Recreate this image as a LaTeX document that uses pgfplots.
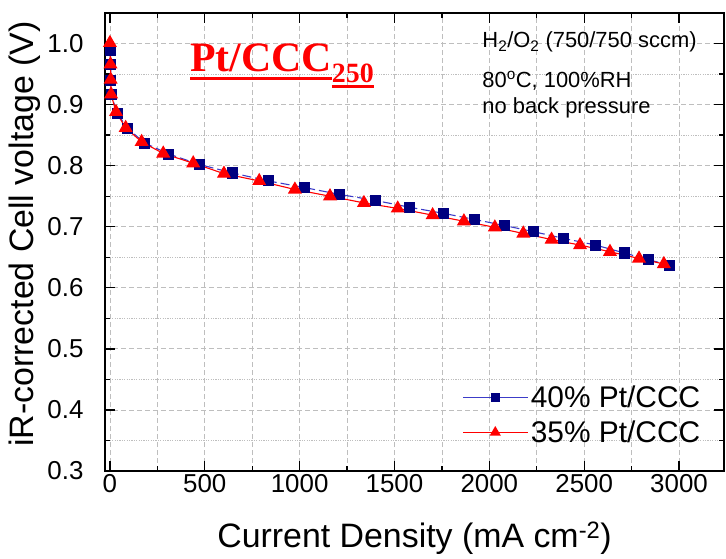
\documentclass[border=0pt]{standalone}
\usepackage{pgfplots}
\pgfplotsset{compat=1.18}
\usepackage{fontspec}
\setmainfont{Liberation Sans}
\newfontfamily\titlefont{Liberation Serif}
\definecolor{navy}{RGB}{0,0,128}
\definecolor{lblue}{RGB}{60,60,200}
\definecolor{gridgray}{RGB}{190,190,190}
\newcommand\ul[3]{\setbox0\hbox{#1}\rlap{\color{red}\rule[-#2]{\wd0}{#3}}\box0}

\begin{document}
\begin{tikzpicture}
\begin{axis}[
  scale only axis, width=619bp, height=458bp,
  xmin=-26, xmax=3237, ymin=0.3, ymax=1.05,
  xtick={0,500,1000,1500,2000,2500,3000}, minor x tick num=1,
  ytick={0.3,0.4,0.5,0.6,0.7,0.8,0.9,1.0}, minor y tick num=1,
  xtick pos=both, ytick pos=both, xticklabel pos=lower, yticklabel pos=left,
  tick align=inside, major tick length=10bp, minor tick length=5bp,
  every tick/.style={black, line width=1.3bp},
  axis line style={line width=2bp},
  grid=both,
  every major x grid/.style={gridgray, line width=0.8bp, dash pattern=on 5bp off 3bp},
  every minor x grid/.style={gridgray, line width=0.8bp, dash pattern=on 5bp off 3bp},
  every major y grid/.style={gridgray, line width=0.8bp, dash pattern=on 5bp off 3bp},
  every minor y grid/.style={gridgray, line width=0.9bp, dash pattern=on 1.2bp off 1.2bp},
  /pgf/number format/assume math mode=true,
  ticklabel style={font=\fontsize{26}{26}\selectfont},
  xticklabel style={/pgf/number format/1000 sep={}},
  yticklabel style={xshift=-18bp, /pgf/number format/.cd, fixed, fixed zerofill, precision=1},
  xlabel={Current Density (mA cm\textsuperscript{-2})},
  ylabel={iR-corrected Cell voltage (V)},
  label style={font=\fontsize{34}{34}\selectfont},
  xlabel style={yshift=-22bp},
  ylabel style={yshift=0bp, xshift=8bp},
  legend style={draw=none, fill=none, at={(rel axis cs:0.97,0.05)}, anchor=south east,
    font=\fontsize{30}{30}\selectfont, row sep=8bp},
  legend cell align=left,
  legend image code/.code={\draw[mark repeat=2,mark phase=2,#1,solid,every mark/.append style={scale=0.75}]
    plot coordinates {(0bp,0bp) (32bp,0bp) (65bp,0bp)};},
]
\addplot[lblue, line width=1.1bp, dash pattern=on 9bp off 4bp, mark=square*, mark size=5bp,
  mark options={solid, fill=navy, draw=navy}] coordinates {
(2,0.989) (4,0.965) (5,0.940) (7,0.916) (38,0.886) (93,0.861) (184,0.837) (311,0.819)
(471,0.802) (647,0.788) (835,0.775) (1028,0.764) (1209,0.753) (1400,0.743) (1578,0.732)
(1757,0.722) (1921,0.712) (2079,0.702) (2232,0.692) (2390,0.681) (2560,0.670) (2712,0.657)
(2838,0.646) (2952,0.637)};
\addlegendentry{40\% Pt/CCC}
\addplot[red, line width=1.1bp, mark=triangle*, mark size=7bp,
  mark options={solid, fill=red, draw=red}] coordinates {
(0,1.001) (3,0.966) (4,0.941) (6,0.917) (32,0.888) (83,0.862) (167,0.839) (281,0.820)
(439,0.804) (601,0.787) (787,0.775) (975,0.761) (1160,0.750) (1339,0.739) (1517,0.730)
(1701,0.719) (1866,0.709) (2029,0.699) (2179,0.689) (2328,0.679) (2478,0.670) (2636,0.659)
(2789,0.648) (2920,0.639)};
\addlegendentry{35\% Pt/CCC}
\node[anchor=base west, font=\fontsize{22}{22}\selectfont] at (axis cs:1945,0.9927)
  {H\textsubscript{2}/O\textsubscript{2} (750/750 sccm)};
\node[anchor=base west, font=\fontsize{22}{22}\selectfont] at (axis cs:1945,0.9288)
  {80\textsuperscript{o}C, 100\%RH};
\node[anchor=base west, font=\fontsize{22}{22}\selectfont] at (axis cs:1945,0.8862)
  {no back pressure};
\node[anchor=base west, inner sep=0pt, text=red] at (axis cs:422,0.9534)
  {\titlefont\bfseries\fontsize{42}{42}\selectfont\ul{Pt/CCC}{8bp}{2.5bp}\fontsize{28}{28}\selectfont\raisebox{-11bp}{\ul{250}{5bp}{2.5bp}}};
\coordinate (sw) at (rel axis cs:0,0);
\end{axis}
\pgfresetboundingbox
\path (sw) ++(-105bp,-88bp) rectangle ++(726bp,559bp);
\end{tikzpicture}
\end{document}
